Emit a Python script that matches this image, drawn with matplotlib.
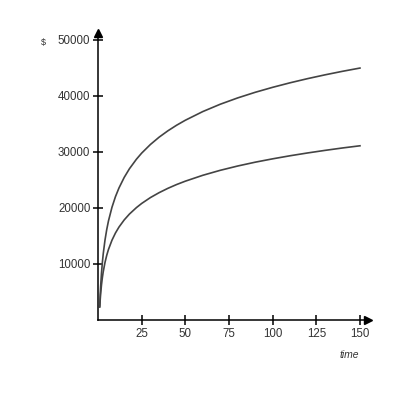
import numpy as np
import matplotlib
matplotlib.use("Agg")
import matplotlib.pyplot as plt

plt.rcParams['font.family'] = ['Liberation Sans', 'DejaVu Sans']

# values
t = [1, 1.25, 1.5, 2, 2.5, 3, 4, 5, 6, 8, 10, 12, 15, 18, 22, 25, 30, 35, 40,
     45, 50, 60, 70, 80, 90, 100, 110, 120, 130, 140, 150]
upper = [2500, 4390, 5940, 8380, 10270, 11820, 14260, 16150, 17700, 20130,
         22030, 23570, 25460, 27010, 28710, 29800, 31340, 32650, 33780,
         34780, 35670, 37220, 38530, 39660, 40660, 41550, 42360, 43100,
         43780, 44410, 44990]
lower = [2300, 3580, 4630, 6290, 7570, 8620, 10270, 11550, 12600, 14250,
         15540, 16590, 17870, 18920, 20070, 20810, 21860, 22740, 23510,
         24190, 24790, 25840, 26730, 27500, 28180, 28780, 29330, 29830,
         30290, 30720, 31110]

xticks = [25, 50, 75, 100, 125, 150]
yticks = [10000, 20000, 30000, 40000, 50000]

fig = plt.figure(figsize=(4, 4), dpi=100)
ax = fig.add_axes([0.245, 0.2, 0.675, 0.7175])

ax.plot(t, upper, color='#444444', lw=1.2, solid_joinstyle='round')
ax.plot(t, lower, color='#444444', lw=1.2, solid_joinstyle='round')

ax.set_xlim(0, 154.6)
ax.set_ylim(0, 51250)
ax.set_xticks(xticks)
ax.set_yticks(yticks)
ax.set_xticklabels([str(v) for v in xticks])
ax.set_yticklabels([str(v) for v in yticks])

for s in ['top', 'right']:
    ax.spines[s].set_visible(False)
for s in ['left', 'bottom']:
    ax.spines[s].set_linewidth(1.1)
ax.tick_params(direction='inout', length=7, width=1.1, labelsize=8.3,
               labelcolor='#333333', pad=2)

# arrow heads at the axis ends
ax.plot(1, 0, '>k', ms=6, transform=ax.get_yaxis_transform(), clip_on=False)
ax.plot(0, 1, '^k', ms=6, transform=ax.get_xaxis_transform(), clip_on=False)

fig.text(43 / 400, 1 - 43 / 400, '$', fontsize=6.5, ha='center', va='center', color='#333333')
fig.text(349 / 400, 1 - 355 / 400, 'time', fontsize=7.5, style='italic',
         ha='center', va='center', color='#333333')

fig.savefig('out.png', dpi=100)
